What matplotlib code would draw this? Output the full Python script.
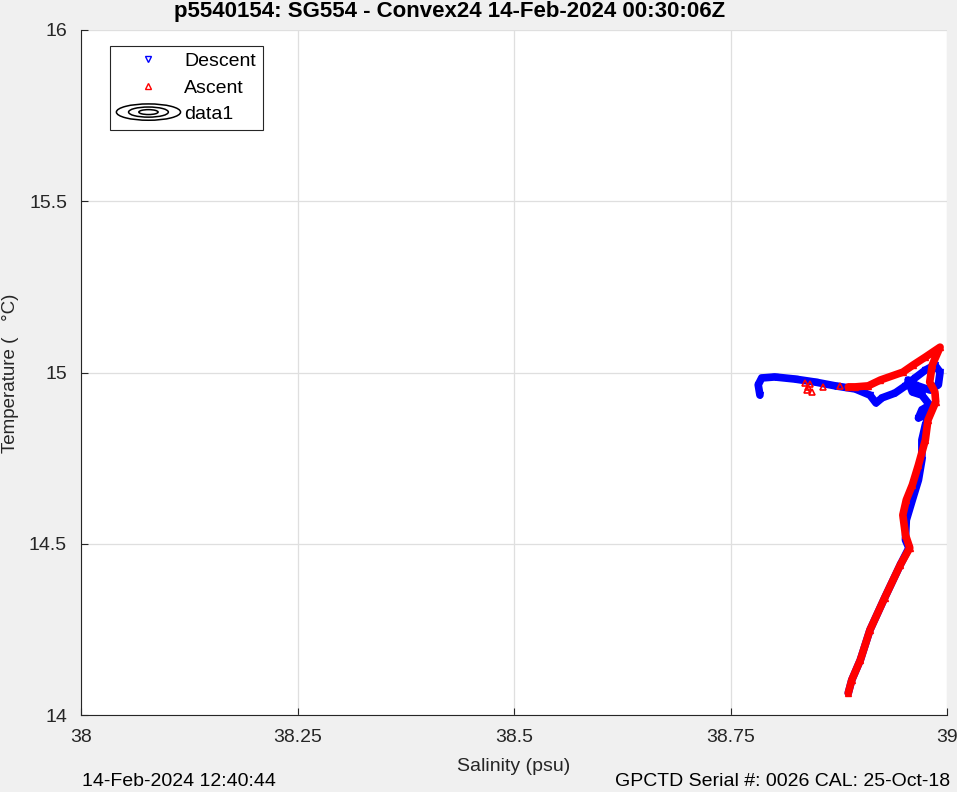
import numpy as np, matplotlib
matplotlib.use("Agg"); import matplotlib.pyplot as plt
from matplotlib.legend_handler import HandlerBase
from matplotlib.patches import Ellipse
from matplotlib.lines import Line2D

BG = "#f0f0f0"; AX = "#262626"; GRID = "#dfdfdf"
plt.rcParams.update({"font.family": ["Liberation Sans", "DejaVu Sans"], "font.size": 13.5})

# descent (blue) trace, salinity / temperature
desc_s = [38.784, 38.782, 38.786, 38.801, 38.824, 38.848, 38.871, 38.894, 38.911, 38.918,
          38.925, 38.940, 38.952, 38.963, 38.975, 38.986, 38.992, 38.990, 38.980, 38.963,
          38.955, 38.960, 38.971, 38.980, 38.971, 38.967, 38.975, 38.983, 38.975, 38.971,
          38.971, 38.967, 38.960, 38.953, 38.952, 38.956, 38.946, 38.928, 38.911, 38.900,
          38.890, 38.886]
desc_t = [14.934, 14.964, 14.984, 14.987, 14.981, 14.972, 14.961, 14.952, 14.934, 14.911,
          14.926, 14.940, 14.961, 14.984, 15.007, 15.022, 15.001, 14.964, 14.949, 14.964,
          14.978, 14.943, 14.934, 14.905, 14.891, 14.867, 14.876, 14.896, 14.847, 14.803,
          14.745, 14.686, 14.628, 14.569, 14.511, 14.488, 14.438, 14.342, 14.248, 14.161,
          14.102, 14.064]
# ascent (red) trace
asc_s = [38.886, 38.890, 38.900, 38.911, 38.928, 38.946, 38.957, 38.952, 38.949, 38.953,
         38.960, 38.967, 38.975, 38.978, 38.987, 38.986, 38.980, 38.983, 38.992, 38.975,
         38.961, 38.949, 38.923, 38.909, 38.894, 38.886]
asc_t = [14.064, 14.102, 14.161, 14.248, 14.342, 14.438, 14.488, 14.526, 14.584, 14.628,
         14.672, 14.730, 14.803, 14.861, 14.914, 14.943, 14.972, 15.022, 15.074, 15.045,
         15.022, 15.001, 14.978, 14.961, 14.958, 14.958]
# sparse ascent samples near the surface
asc_sp_s = [38.877, 38.857, 38.840, 38.836, 38.844, 38.838, 38.842]
asc_sp_t = [14.961, 14.958, 14.958, 14.969, 14.943, 14.950, 14.965]

xticks = [38, 38.25, 38.5, 38.75, 39]
yticks = [14, 14.5, 15, 15.5, 16]

class HandlerRings(HandlerBase):
    def create_artists(self, legend, orig, xd, yd, w, h, fs, trans):
        cx, cy = xd + w / 2, yd + h / 2
        return [Ellipse((cx, cy), w * f, h * 1.2 * f, fill=False, ec="k", lw=1.1,
                        transform=trans) for f in (1.0, 0.62, 0.3)]

fig = plt.figure(figsize=(9.57, 7.92), dpi=100, facecolor=BG)
ax = fig.add_axes([81 / 957, 1 - 715 / 792, 866 / 957, 685 / 792])
ax.set_facecolor("white")

ax.plot(desc_s, desc_t, color="#0000ff", lw=5.5, solid_capstyle="round", zorder=3)
ax.plot(desc_s, desc_t, ls="none", marker="v", ms=4, mfc="none", mec="#0000ff", zorder=3)
ax.plot(asc_s, asc_t, color="#ff0000", lw=5.5, solid_capstyle="round", zorder=4)
ax.plot(asc_s, asc_t, ls="none", marker="^", ms=4, mfc="none", mec="#ff0000", zorder=4)
ax.plot(asc_sp_s, asc_sp_t, ls="none", marker="^", ms=4.5, mfc="none", mec="#ff0000", mew=1.2, zorder=4)

ax.set_xlim(38, 39); ax.set_ylim(14, 16)
ax.set_xticks(xticks); ax.set_xticklabels(["38", "38.25", "38.5", "38.75", "39"])
ax.set_yticks(yticks); ax.set_yticklabels(["14", "14.5", "15", "15.5", "16"])
ax.grid(True, color=GRID, lw=0.9); ax.set_axisbelow(True)
for s in ("top", "right"): ax.spines[s].set_visible(False)
for s in ("left", "bottom"): ax.spines[s].set_color(AX); ax.spines[s].set_linewidth(0.8)
ax.tick_params(direction="in", length=5, colors=AX, labelsize=14, pad=10)
ax.set_xlabel("Salinity (psu)", fontsize=14, color=AX, labelpad=9)
fig.text(11 / 957, 1 - 373 / 792, "Temperature (   \u00b0C)", rotation=90, ha="center",
         va="center", fontsize=13.5, color=AX)

handles = [Line2D([], [], ls="none", marker="v", ms=4, mfc="none", mec="#0000ff", label="Descent"),
           Line2D([], [], ls="none", marker="^", ms=4, mfc="none", mec="#ff0000", label="Ascent"),
           Line2D([], [], color="k", label="data1")]
leg = ax.legend(handles=handles, loc="upper left", bbox_to_anchor=(0.033, 0.977),
                handlelength=3.3, handletextpad=0.2, borderpad=0.35, borderaxespad=0,
                labelspacing=0.45, fontsize=14, fancybox=False, framealpha=1, edgecolor=AX,
                handler_map={handles[2]: HandlerRings()})
leg.get_frame().set_linewidth(0.8)

fig.text(450 / 957, 1 - 12 / 792, "p5540154: SG554 - Convex24 14-Feb-2024 00:30:06Z",
         ha="center", va="center", fontsize=16, fontweight="bold", color="black")
fig.text(82 / 957, 1 - 786 / 792, "14-Feb-2024 12:40:44", ha="left", va="baseline", fontsize=14)
fig.text(950 / 957, 1 - 786 / 792, "GPCTD Serial #: 0026 CAL: 25-Oct-18", ha="right",
         va="baseline", fontsize=14)
fig.savefig("out.png", dpi=100, facecolor=BG)
